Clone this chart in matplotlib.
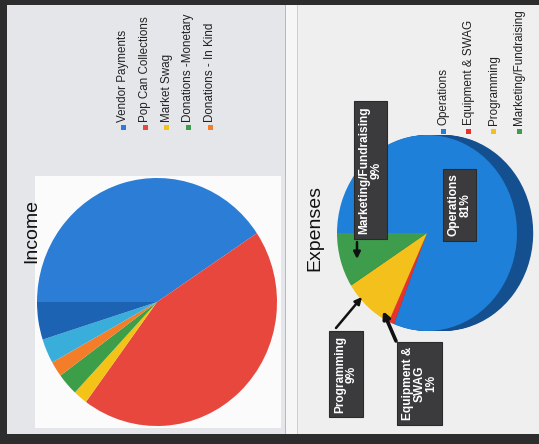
import matplotlib
matplotlib.use("Agg")
import matplotlib.pyplot as plt
from matplotlib.patches import Rectangle
import numpy as np

# ---------------- data ----------------
income_title = "Income"
income_legend_labels = ["Vendor Payments", "Pop Can Collections", "Market Swag",
                        "Donations -Monetary", "Donations - In Kind"]
# shares (last two wedges are not named in the legend)
income_values = [40.6, 44.4, 1.9, 2.9, 2.0, 3.2, 4.9]
income_colors = ["#2b7dd6", "#e8473d", "#f3c317", "#3d9e4a", "#f47d2a", "#3aaedb", "#1d63b3"]

expense_title = "Expenses"
expense_labels = ["Operations", "Equipment & SWAG", "Programming", "Marketing/Fundraising"]
expense_values = [81, 1, 9, 9]
expense_box_text = ["Operations\n81%", "Equipment &\nSWAG\n1%", "Programming\n9%",
                    "Marketing/Fundraising\n9%"]
expense_colors = ["#1f80d9", "#e8322e", "#f4c01c", "#3e9d4c"]
expense_dark = ["#14508f", "#9c1f1c", "#a88310", "#276a31"]

FONT = "Liberation Sans"
W, H = 539, 444

fig = plt.figure(figsize=(W / 100, H / 100), dpi=100)
fig.patch.set_facecolor("#2d2d2d")


def rect(x0, y0, x1, y1):
    return [x0 / W, 1 - y1 / H, (x1 - x0) / W, (y1 - y0) / H]


# background panels (pixel coordinates, y downward)
bg = fig.add_axes([0, 0, 1, 1])
bg.set_xlim(0, W)
bg.set_ylim(H, 0)
bg.axis("off")
bg.add_patch(Rectangle((7, 5), 278, 429, color="#e4e6e9", lw=0))
bg.add_patch(Rectangle((35, 176), 246, 252, color="#fbfbfc", lw=0))
bg.add_patch(Rectangle((285, 5), 12, 429, color="#f6f6f6", lw=0))
bg.add_patch(Rectangle((285, 5), 1.2, 429, color="#b8b8b8", lw=0))
bg.add_patch(Rectangle((297, 5), 242, 429, color="#efefef", lw=0))
bg.add_patch(Rectangle((297, 5), 0.8, 429, color="#cfcfcf", lw=0))


def pie_axes(cx, cy, rx, ry, pad=1.3):
    ax = fig.add_axes(rect(cx - rx * pad, cy - ry * pad, cx + rx * pad, cy + ry * pad))
    return ax, pad


# ---------------- Income pie ----------------
ax1, p1 = pie_axes(157, 302, 120, 124)
w1, _ = ax1.pie(income_values, colors=income_colors, startangle=180, counterclock=False,
                wedgeprops=dict(linewidth=0))
ax1.set_aspect("auto")
ax1.set_xlim(-p1, p1)
ax1.set_ylim(-p1, p1)
ax1.axis("off")

# ---------------- Expenses pie (3D look) ----------------
ax2, p2 = pie_axes(427, 233, 90, 98)
for off in np.linspace(0.18, 0.01, 14):
    ax2.pie(expense_values, colors=expense_dark, startangle=180, counterclock=False,
            center=(off, 0), wedgeprops=dict(linewidth=0))
ax2.pie(expense_values, colors=expense_colors, startangle=180, counterclock=False,
        wedgeprops=dict(linewidth=0))
ax2.set_aspect("auto")
ax2.set_xlim(-p2, p2)
ax2.set_ylim(-p2, p2)
ax2.axis("off")

# ---------------- overlay: titles, legends, labels ----------------
ov = fig.add_axes([0, 0, 1, 1])
ov.set_xlim(0, W)
ov.set_ylim(H, 0)
ov.patch.set_alpha(0)
ov.axis("off")

ov.text(32, 231, income_title, rotation=90, ha="center", va="center",
        fontsize=14, family=FONT, color="#111111")
ov.text(315, 228, expense_title, rotation=90, ha="center", va="center",
        fontsize=14, family=FONT, color="#111111")

# income legend
for i, (lab, col) in enumerate(zip(income_legend_labels, income_colors)):
    x = 123.3 + 21.7 * i
    ov.add_patch(Rectangle((x - 2.5, 124.5), 5, 5, color=col, lw=0))
    ov.text(x, 121.5, lab, rotation=90, ha="center", va="bottom",
            fontsize=8.4, family=FONT, color="#222222")

# expense legend
for i, (lab, col) in enumerate(zip(expense_labels, expense_colors)):
    x = 443.3 + 25.3 * i
    ov.add_patch(Rectangle((x - 2.5, 128.5), 5, 5, color=col, lw=0))
    ov.text(x, 125, lab, rotation=90, ha="center", va="bottom",
            fontsize=8.4, family=FONT, color="#222222")

# data label boxes
box_centers = [(459.5, 205), (419.7, 383.3), (346, 374), (370.5, 170)]
for txt, (x, y) in zip(expense_box_text, box_centers):
    ov.text(x, y, txt, rotation=90, ha="center", va="center", multialignment="center",
            fontsize=8.6, family=FONT, fontweight="bold", color="white", linespacing=1.0,
            bbox=dict(boxstyle="square,pad=0.4", fc="#3b3b3d", ec="#2a2a2a", lw=0.8))

arrow_kw = dict(arrowstyle="-|>", color="#111111", lw=1.8, mutation_scale=10,
                shrinkA=0, shrinkB=0)
ov.annotate("", xy=(357, 259), xytext=(357, 242), arrowprops=arrow_kw)
ov.annotate("", xy=(362, 297), xytext=(336, 328), arrowprops=arrow_kw)
ov.annotate("", xy=(383, 311), xytext=(396, 341), arrowprops=dict(arrow_kw, lw=2.6))

fig.savefig("out.png", dpi=100, facecolor=fig.get_facecolor())
